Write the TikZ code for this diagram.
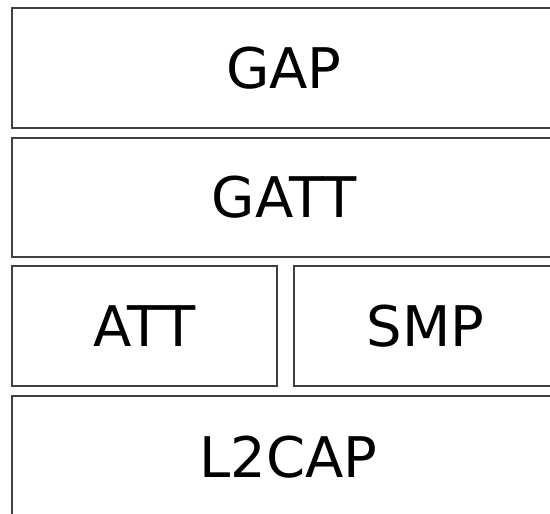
\documentclass[tikz,border=0pt]{standalone}
\usepackage{fontspec}
\setmainfont{DejaVu Sans}
\begin{document}
\begin{tikzpicture}[x=1pt,y=-1pt,
  layer/.style={draw=black!75, line width=2.3pt, fill=white, inner sep=0pt,
    font=\fontsize{56}{60}\selectfont, text=black}]
\useasboundingbox (0,0) rectangle (550,514);
\fill[white] (0,0) rectangle (550,514);
\clip (0,0) rectangle (550,514);
\node[layer, minimum width=544pt, minimum height=120pt] (gap) at (284,68) {GAP};
\node[layer, minimum width=544pt, minimum height=119pt] (gatt) at (284,197.5) {GATT};
\node[layer, minimum width=265pt, minimum height=120pt] (att) at (144.5,326) {ATT};
\node[layer, minimum width=263pt, minimum height=120pt] (smp) at (425.5,326) {SMP};
\node[layer, minimum width=553pt, minimum height=122pt] (l2cap) at (288.5,457) {L2CAP};
\end{tikzpicture}
\end{document}
